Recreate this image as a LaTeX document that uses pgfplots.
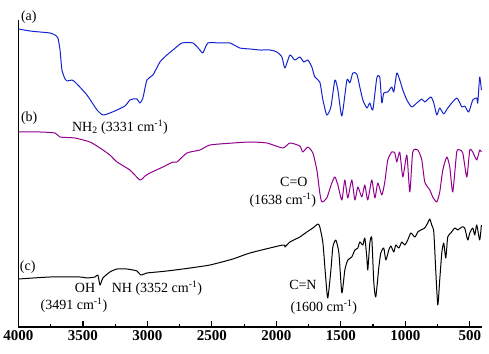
\documentclass[border=0pt]{standalone}
\usepackage{pgfplots}
\pgfplotsset{compat=1.18}
\usepackage{fontspec}
\setmainfont{Liberation Serif}

\definecolor{specA}{RGB}{20,35,205}
\definecolor{specB}{RGB}{145,0,140}

\begin{document}
\begin{tikzpicture}
\begin{axis}[
  scale only axis, width=463pt, height=307pt,
  x dir=reverse, xmin=409, xmax=4000, ymin=0, ymax=307,
  axis x line*=bottom, axis y line*=left,
  axis line style={line width=1.2pt, -},
  ytick=\empty,
  xtick={500,1000,...,4000}, minor xtick={750,1250,...,3750},
  major tick length=6pt, minor tick length=3pt,
  tick style={line width=1.2pt, black},
  tick align=inside,
  xticklabel style={font=\bfseries\fontsize{15}{15}\selectfont},
  /pgf/number format/assume math mode=true,
  /pgf/number format/1000 sep={},
  clip=false,
  every axis plot/.append style={line width=1pt, line join=round, smooth, tension=0.35},
]
% (a) amine precursor
\addplot[specA] coordinates {
(4000,298) (3911,296) (3833,295) (3756,294) (3717,292) (3694,289) (3678,277)
(3663,257) (3639,248) (3624,246) (3585,247) (3562,245) (3539,242) (3469,232)
(3391,217) (3345,212) (3291,214) (3236,217) (3174,221) (3136,227) (3112,228)
(3081,228) (3058,224) (3035,229) (3004,247) (2957,252) (2903,265) (2849,272)
(2802,277) (2733,284) (2647,284) (2593,277) (2570,274) (2531,284) (2438,284)
(2360,284) (2283,279) (2205,278) (2128,277) (2050,277) (1996,275) (1957,270)
(1934,259) (1895,272) (1857,267) (1818,270) (1787,265) (1756,267) (1725,260)
(1702,250) (1663,245) (1639,227) (1609,212) (1577,220) (1546,247) (1523,237)
(1492,211) (1453,247) (1430,244) (1407,254) (1376,253) (1353,240) (1329,227)
(1298,219) (1275,224) (1252,217) (1221,249) (1198,250) (1182,224) (1167,234)
(1136,235) (1105,240) (1089,235) (1066,254) (1043,247) (1019,237) (988,227)
(950,220) (911,224) (872,228) (849,225) (802,230) (779,224) (756,212)
(733,219) (702,213) (671,219) (601,229) (562,220) (539,221) (508,215)
(477,227) (446,229) (438,224) (423,250) (410,237)
};
% (b) aldehyde precursor
\addplot[specB] coordinates {
(4000,195) (3833,195) (3717,194) (3678,190) (3562,189) (3446,185) (3368,179)
(3291,172) (3236,165) (3136,157) (3058,147) (3019,151) (2981,154) (2880,160)
(2802,165) (2771,165) (2694,174) (2593,177) (2515,182) (2337,184) (2205,185)
(2074,184) (1950,179) (1895,184) (1818,181) (1795,175) (1756,180) (1717,174)
(1686,157) (1663,134) (1647,125) (1609,129) (1570,144) (1546,150) (1523,142)
(1492,127) (1469,147) (1446,129) (1415,147) (1391,127) (1368,140) (1337,130)
(1314,142) (1291,127) (1260,147) (1236,129) (1213,144) (1182,132) (1159,145)
(1136,167) (1105,175) (1081,174) (1066,165) (1043,175) (1019,150) (988,172)
(965,135) (942,175) (903,177) (872,167) (849,145) (810,137) (787,130)
(756,125) (733,135) (709,157) (678,170) (655,160) (632,135) (601,175)
(577,177) (554,174) (523,150) (500,177) (477,175) (446,167) (423,177) (410,175)
};
% (c) Schiff base product
\addplot[black] coordinates {
(4000,48) (3756,50) (3523,50) (3469,49) (3407,50) (3384,52) (3368,42)
(3345,49) (3291,55) (3236,58) (3159,58) (3112,57) (3081,56) (3050,52)
(3004,54) (2926,55) (2849,56) (2725,58) (2670,59) (2515,62) (2337,68)
(2205,74) (1950,82) (1934,80) (1895,85) (1818,90) (1764,95) (1717,99)
(1678,103) (1663,100) (1639,84) (1616,47) (1601,29) (1577,57) (1562,80)
(1539,87) (1515,74) (1492,34) (1469,57) (1446,67) (1415,70) (1391,77)
(1368,79) (1353,85) (1329,82) (1314,89) (1298,69) (1291,57) (1275,84)
(1260,89) (1244,44) (1229,30) (1205,60) (1190,74) (1167,79) (1151,67)
(1128,77) (1112,81) (1089,75) (1074,82) (1050,79) (1027,85) (1004,82)
(981,87) (957,94) (926,90) (903,95) (880,97) (849,99) (826,104)
(810,108) (795,102) (779,95) (764,57) (748,22) (733,47) (717,74)
(702,84) (686,69) (671,90) (647,94) (616,99) (593,97) (562,100)
(539,99) (516,87) (500,94) (477,99) (461,92) (446,102) (423,87) (410,102)
};

\begin{scope}[every node/.style={font=\fontsize{14}{16}\selectfont, inner sep=0pt}]
\node[anchor=west] at (axis cs:3982,310) {(a)};
\node[anchor=west] at (axis cs:3982,209) {(b)};
\node[anchor=west] at (axis cs:3990,60) {(c)};
\node at (axis cs:3213,200) {NH\textsubscript{2} (3331 cm\textsuperscript{-1})};
\node at (axis cs:1864,145) {C=O};
\node at (axis cs:1950,127) {(1638 cm\textsuperscript{-1})};
\node at (axis cs:3484,39) {OH};
\node at (axis cs:3570,22) {(3491 cm\textsuperscript{-1})};
\node at (axis cs:2926,39) {NH (3352 cm\textsuperscript{-1})};
\node at (axis cs:1794,42) {C=N};
\node at (axis cs:1632,20) {(1600 cm\textsuperscript{-1})};
\end{scope}
\end{axis}
% page frame
\path (0,0) ++(-18.5pt,-26pt) rectangle ++(489pt,353pt);
\end{tikzpicture}
\end{document}
